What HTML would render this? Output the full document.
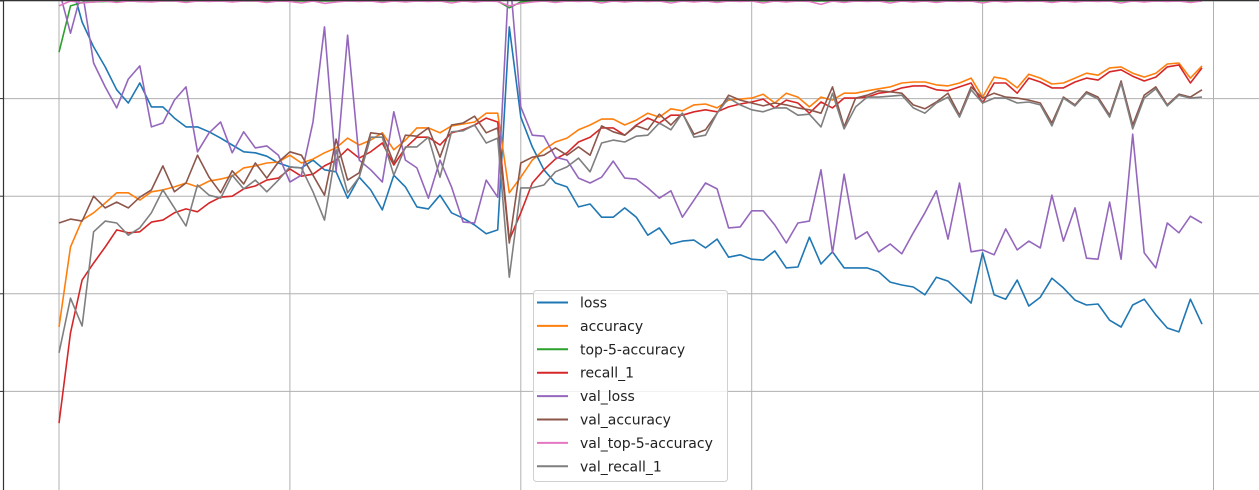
<!DOCTYPE html>
<html><head><meta charset="utf-8">
<style>
html,body{margin:0;padding:0;background:#fff;width:1259px;height:490px;overflow:hidden}
svg{display:block;font-family:"DejaVu Sans","Liberation Sans",sans-serif}
</style></head>
<body>
<svg id="chart" width="1259" height="490" viewBox="0 0 1259 490" xmlns="http://www.w3.org/2000/svg">
<defs><clipPath id="plotclip"><rect x="3" y="1" width="1256" height="489"/></clipPath></defs>
<g id="grid"></g>
<g id="series" clip-path="url(#plotclip)"></g>
<line x1="3.5" y1="0" x2="3.5" y2="490" stroke="#333" stroke-width="1.2"/>
<line x1="0" y1="0.5" x2="1259" y2="0.5" stroke="#333" stroke-width="1.2"/>
<g id="ticks"></g>
<g id="legend"></g>
</svg>
<script>
const xTicks = [0, 20, 40, 60, 80, 100];
const yTicks = [0.2, 0.4, 0.6, 0.8, 1.0];
const seriesNames = ["loss","accuracy","top-5-accuracy","recall_1","val_loss","val_accuracy","val_top-5-accuracy","val_recall_1"];
const seriesColors = ["#1f77b4","#ff7f0e","#2ca02c","#d62728","#9467bd","#8c564b","#e377c2","#7f7f7f"];
const loss = [1.166,1.043,0.957,0.906,0.865,0.818,0.791,0.832,0.783,0.783,0.760,0.742,0.742,0.732,0.719,0.705,0.691,0.689,0.682,0.668,0.660,0.658,0.674,0.654,0.650,0.596,0.639,0.613,0.572,0.643,0.619,0.578,0.574,0.602,0.566,0.555,0.541,0.523,0.531,0.947,0.762,0.701,0.654,0.627,0.619,0.578,0.584,0.557,0.557,0.576,0.557,0.520,0.535,0.502,0.508,0.510,0.494,0.512,0.475,0.480,0.471,0.469,0.488,0.453,0.455,0.516,0.461,0.486,0.453,0.453,0.453,0.445,0.424,0.418,0.414,0.398,0.434,0.426,0.404,0.381,0.484,0.398,0.389,0.428,0.375,0.393,0.432,0.412,0.387,0.377,0.379,0.346,0.332,0.377,0.389,0.357,0.330,0.322,0.389,0.338];
const accuracy = [0.332,0.496,0.551,0.566,0.586,0.607,0.607,0.592,0.609,0.613,0.619,0.627,0.619,0.631,0.635,0.641,0.658,0.662,0.668,0.670,0.684,0.668,0.676,0.689,0.699,0.719,0.705,0.715,0.730,0.695,0.715,0.740,0.740,0.730,0.744,0.748,0.752,0.770,0.770,0.607,0.639,0.674,0.695,0.711,0.719,0.736,0.746,0.758,0.758,0.746,0.756,0.770,0.762,0.779,0.775,0.787,0.789,0.781,0.797,0.799,0.801,0.809,0.791,0.811,0.803,0.783,0.803,0.797,0.811,0.811,0.816,0.820,0.824,0.832,0.834,0.834,0.828,0.826,0.832,0.842,0.803,0.844,0.840,0.822,0.850,0.842,0.830,0.832,0.842,0.852,0.848,0.863,0.865,0.852,0.844,0.852,0.871,0.873,0.842,0.867];
const top5 = [0.895,0.990,0.997,0.998,0.999,0.999,1.0,0.999,1.0,1.0,1.0,1.0,1.0,1.0,1.0,1.0,1.0,1.0,1.0,1.0,1.0,1.0,1.0,1.0,1.0,1.0,1.0,1.0,1.0,1.0,1.0,1.0,1.0,1.0,1.0,1.0,1.0,1.0,1.0,0.986,0.998,1.0,1.0,1.0,1.0,1.0,1.0,1.0,1.0,1.0,1.0,1.0,1.0,1.0,1.0,1.0,1.0,1.0,1.0,1.0,1.0,1.0,1.0,1.0,1.0,1.0,1.0,1.0,1.0,1.0,1.0,1.0,1.0,1.0,1.0,1.0,1.0,1.0,1.0,1.0,1.0,1.0,1.0,1.0,1.0,1.0,1.0,1.0,1.0,1.0,1.0,1.0,1.0,1.0,1.0,1.0,1.0,1.0,1.0,1.0];
const recall = [0.135,0.320,0.428,0.463,0.496,0.531,0.525,0.527,0.547,0.551,0.566,0.574,0.568,0.586,0.598,0.600,0.615,0.621,0.633,0.637,0.656,0.641,0.645,0.662,0.674,0.697,0.678,0.691,0.709,0.664,0.699,0.721,0.721,0.705,0.730,0.736,0.746,0.760,0.752,0.510,0.566,0.627,0.654,0.676,0.689,0.711,0.721,0.740,0.740,0.725,0.746,0.760,0.750,0.766,0.766,0.773,0.777,0.773,0.783,0.789,0.793,0.799,0.781,0.797,0.791,0.770,0.793,0.781,0.801,0.801,0.803,0.811,0.814,0.822,0.826,0.826,0.818,0.816,0.824,0.832,0.791,0.832,0.832,0.811,0.842,0.834,0.822,0.822,0.834,0.842,0.838,0.855,0.859,0.846,0.836,0.844,0.865,0.869,0.832,0.863];
const valLoss = [1.023,0.934,1.023,0.873,0.824,0.781,0.840,0.867,0.742,0.750,0.797,0.824,0.691,0.730,0.752,0.689,0.732,0.699,0.703,0.684,0.629,0.643,0.752,0.947,0.650,0.930,0.674,0.654,0.629,0.773,0.674,0.658,0.596,0.674,0.619,0.547,0.545,0.633,0.598,1.064,0.783,0.725,0.723,0.680,0.674,0.637,0.627,0.639,0.672,0.637,0.635,0.617,0.596,0.611,0.557,0.592,0.627,0.615,0.535,0.537,0.570,0.570,0.541,0.504,0.545,0.549,0.654,0.484,0.645,0.512,0.527,0.486,0.502,0.482,0.525,0.566,0.611,0.512,0.627,0.486,0.490,0.480,0.533,0.490,0.508,0.494,0.602,0.508,0.576,0.473,0.471,0.588,0.471,0.727,0.484,0.453,0.545,0.525,0.559,0.545];
const valAccuracy = [0.545,0.553,0.549,0.600,0.576,0.588,0.576,0.598,0.613,0.662,0.609,0.627,0.684,0.639,0.607,0.652,0.625,0.668,0.637,0.670,0.691,0.684,0.643,0.602,0.717,0.633,0.648,0.730,0.727,0.668,0.725,0.723,0.740,0.680,0.746,0.750,0.764,0.730,0.740,0.504,0.668,0.680,0.684,0.699,0.684,0.701,0.684,0.744,0.732,0.725,0.744,0.736,0.768,0.746,0.770,0.727,0.736,0.770,0.807,0.797,0.791,0.785,0.791,0.787,0.781,0.777,0.770,0.824,0.742,0.801,0.807,0.816,0.814,0.811,0.787,0.779,0.793,0.811,0.766,0.824,0.801,0.811,0.803,0.801,0.797,0.791,0.750,0.803,0.787,0.814,0.803,0.766,0.836,0.746,0.807,0.824,0.787,0.809,0.803,0.818];
const valTop5 = [0.990,1.0,0.996,0.998,1.0,0.997,1.0,0.999,0.998,1.0,1.0,0.997,1.0,0.999,1.0,0.998,1.0,1.0,0.997,1.0,0.999,0.996,1.0,0.995,0.998,1.0,0.999,1.0,0.997,1.0,0.998,1.0,0.999,1.0,0.996,1.0,0.998,1.0,0.999,0.990,0.995,0.998,1.0,0.997,1.0,0.999,1.0,0.996,1.0,0.998,1.0,0.999,1.0,0.996,1.0,0.998,1.0,0.997,1.0,0.999,1.0,0.996,1.0,0.998,1.0,0.999,0.993,1.0,0.997,1.0,0.999,1.0,0.996,1.0,0.998,1.0,0.997,1.0,0.999,1.0,0.996,1.0,0.998,1.0,0.999,1.0,0.997,1.0,0.998,1.0,0.999,1.0,0.996,1.0,0.998,1.0,0.999,1.0,0.997,1.0];
const valRecall = [0.279,0.391,0.334,0.527,0.549,0.545,0.520,0.535,0.566,0.613,0.576,0.539,0.623,0.602,0.596,0.643,0.615,0.633,0.609,0.633,0.660,0.658,0.609,0.551,0.695,0.607,0.639,0.721,0.721,0.643,0.701,0.701,0.721,0.639,0.732,0.734,0.746,0.709,0.719,0.434,0.617,0.617,0.623,0.650,0.660,0.678,0.650,0.709,0.715,0.711,0.723,0.725,0.750,0.736,0.770,0.721,0.725,0.770,0.801,0.787,0.777,0.773,0.781,0.781,0.766,0.768,0.742,0.811,0.738,0.783,0.803,0.803,0.805,0.807,0.781,0.770,0.791,0.803,0.762,0.818,0.791,0.801,0.801,0.791,0.793,0.787,0.744,0.801,0.785,0.811,0.799,0.762,0.832,0.738,0.801,0.820,0.785,0.807,0.801,0.803];

const NS = "http://www.w3.org/2000/svg";
function xScale(i){ return 59 + i * 11.545; }
function yScale(v){ return 489 - v * 488; }

const grid = document.getElementById('grid');
xTicks.forEach(t => {
  const l = document.createElementNS(NS,'line');
  l.setAttribute('x1', xScale(t)); l.setAttribute('x2', xScale(t));
  l.setAttribute('y1', 0); l.setAttribute('y2', 490);
  l.setAttribute('stroke', '#b0b0b0'); l.setAttribute('stroke-width', '1');
  
  
  grid.appendChild(l);
});
const ticks = document.getElementById('ticks');
yTicks.forEach(t => {
  const l = document.createElementNS(NS,'line');
  l.setAttribute('x1', 3); l.setAttribute('x2', 1259);
  l.setAttribute('y1', yScale(t)); l.setAttribute('y2', yScale(t));
  l.setAttribute('stroke', '#b0b0b0'); l.setAttribute('stroke-width', '1');
  
  
  grid.appendChild(l);
  const tk = document.createElementNS(NS,'line');
  tk.setAttribute('x1', 0); tk.setAttribute('x2', 3);
  tk.setAttribute('y1', yScale(t)); tk.setAttribute('y2', yScale(t));
  tk.setAttribute('stroke', '#333'); tk.setAttribute('stroke-width', '1');
  
  
  ticks.appendChild(tk);
});

const allSeries = [loss, accuracy, top5, recall, valLoss, valAccuracy, valTop5, valRecall];
const sg = document.getElementById('series');
allSeries.forEach((arr, k) => {
  const p = document.createElementNS(NS,'polyline');
  p.setAttribute('points', arr.map((v,i) => xScale(i).toFixed(1)+','+yScale(v).toFixed(1)).join(' '));
  p.setAttribute('fill', 'none');
  p.setAttribute('stroke', seriesColors[k]);
  p.setAttribute('stroke-width', '1.6');
  p.setAttribute('stroke-linejoin', 'round');
  
  
  sg.appendChild(p);
});

const lg = document.getElementById('legend');
const box = document.createElementNS(NS,'rect');
box.setAttribute('x', 533.5); box.setAttribute('y', 290.5);
box.setAttribute('width', 194); box.setAttribute('height', 191);
box.setAttribute('rx', 3);
box.setAttribute('fill', 'rgba(255,255,255,0.8)'); box.setAttribute('stroke', '#d0d0d0');


lg.appendChild(box);
seriesNames.forEach((n, k) => {
  const yy = 302.5 + k * 23.4;
  const g = document.createElementNS(NS,'g');
  
  
  const l = document.createElementNS(NS,'line');
  l.setAttribute('x1', 537); l.setAttribute('x2', 568);
  l.setAttribute('y1', yy); l.setAttribute('y2', yy);
  l.setAttribute('stroke', seriesColors[k]); l.setAttribute('stroke-width', '2');
  
  
  g.appendChild(l);
  const t = document.createElementNS(NS,'text');
  t.setAttribute('x', 580); t.setAttribute('y', yy + 5);
  t.setAttribute('font-size', '14'); t.setAttribute('fill', '#222');
  t.textContent = n;
  
  
  g.appendChild(t);
  lg.appendChild(g);
});
</script>
</body></html>
